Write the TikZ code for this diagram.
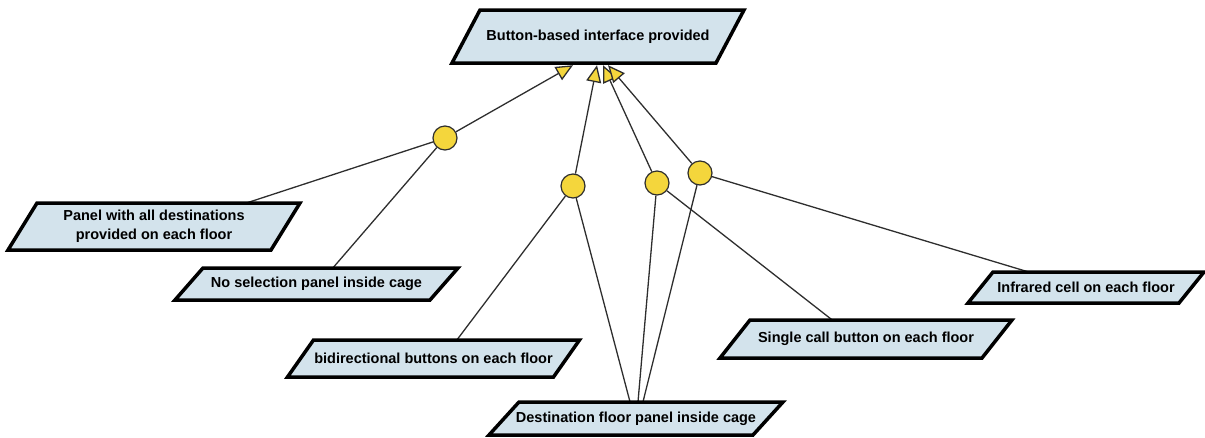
\documentclass[tikz,border=0pt]{standalone}
\usepackage{fontspec}
\setmainfont{Liberation Sans}
\usetikzlibrary{arrows.meta,calc,backgrounds}

\definecolor{boxfill}{HTML}{D3E3EC}
\definecolor{dotfill}{HTML}{F4D63C}
\definecolor{wire}{HTML}{2E2E2E}

\tikzset{
  boxedge/.style={fill=boxfill, draw=black, line width=3.5pt, line join=miter},
  boxtext/.style={draw=none, inner sep=0pt, align=center,
    font=\bfseries\fontsize{14.5}{19}\selectfont},
  dot/.style={circle, minimum size=24pt, inner sep=0pt, fill=dotfill,
    draw=wire, line width=1.2pt},
  link/.style={draw=wire, line width=1.3pt},
  goal/.style={link, -{Triangle[length=17pt, width=15pt, fill=dotfill]}},
}

% parallelogram node: #1 name, #2 cx, #3 cy, #4 edge length, #5 height, #6 slant, #7 text
\newcommand{\parabox}[7]{%
  \draw[boxedge] ({#2-#4/2+#6/2},{#3-#5/2}) -- ({#2+#4/2+#6/2},{#3-#5/2})
    -- ({#2+#4/2-#6/2},{#3+#5/2}) -- ({#2-#4/2-#6/2},{#3+#5/2}) -- cycle;
  \node[boxtext, minimum width=#4, minimum height=#5] (#1) at (#2,#3) {#7};
}

\begin{document}
\begin{tikzpicture}[x=1pt, y=-1pt]
  \useasboundingbox (0,0) rectangle (1205,437);

  % goal and sub-goals
  \parabox{top}{598}{36.5}{264}{53}{28}{Button-based interface provided}
  \parabox{panel}{154}{226.5}{263}{47}{29}{Panel with all destinations\\provided on each floor}
  \parabox{nosel}{316.5}{284}{255}{32}{28}{No selection panel inside cage}
  \parabox{bidir}{433.5}{358.5}{266}{37}{26}{bidirectional buttons on each floor}
  \parabox{dest}{636}{418.5}{264}{33}{30}{Destination floor panel inside cage}
  \parabox{single}{866}{339}{262}{38}{30}{Single call button on each floor}
  \parabox{infra}{1086}{287.5}{211}{31}{25}{Infrared cell on each floor}

  % AND junctions
  \node[dot] (j1) at (445,138) {};
  \node[dot] (j2) at (573,186) {};
  \node[dot] (j3) at (657,183) {};
  \node[dot] (j4) at (700,173) {};

  % junctions to the goal
  \draw[goal] (j1) -- ($(top.south)+(-25,2)$);
  \draw[goal] (j2) -- ($(top.south)+(-1,2)$);
  \draw[goal] (j3) -- ($(top.south)+(5,2)$);
  \draw[goal] (j4) -- ($(top.south)+(10,2)$);

  \begin{pgfonlayer}{background}
    % sub-goals to junctions
    \draw[link] (j1) -- ($(panel.north)+(93,0)$);
    \draw[link] (j1) -- ($(nosel.north)+(16.5,0)$);
    \draw[link] (j2) -- ($(bidir.north)+(23.5,0)$);
    \draw[link] (j2) -- ($(dest.north)+(-6,0)$);
    \draw[link] (j3) -- ($(dest.north)+(2,0)$);
    \draw[link] (j3) -- ($(single.north)+(-34,0)$);
    \draw[link] (j4) -- ($(dest.north)+(7,0)$);
    \draw[link] (j4) -- ($(infra.north)+(-58,0)$);
  \end{pgfonlayer}
\end{tikzpicture}
\end{document}
